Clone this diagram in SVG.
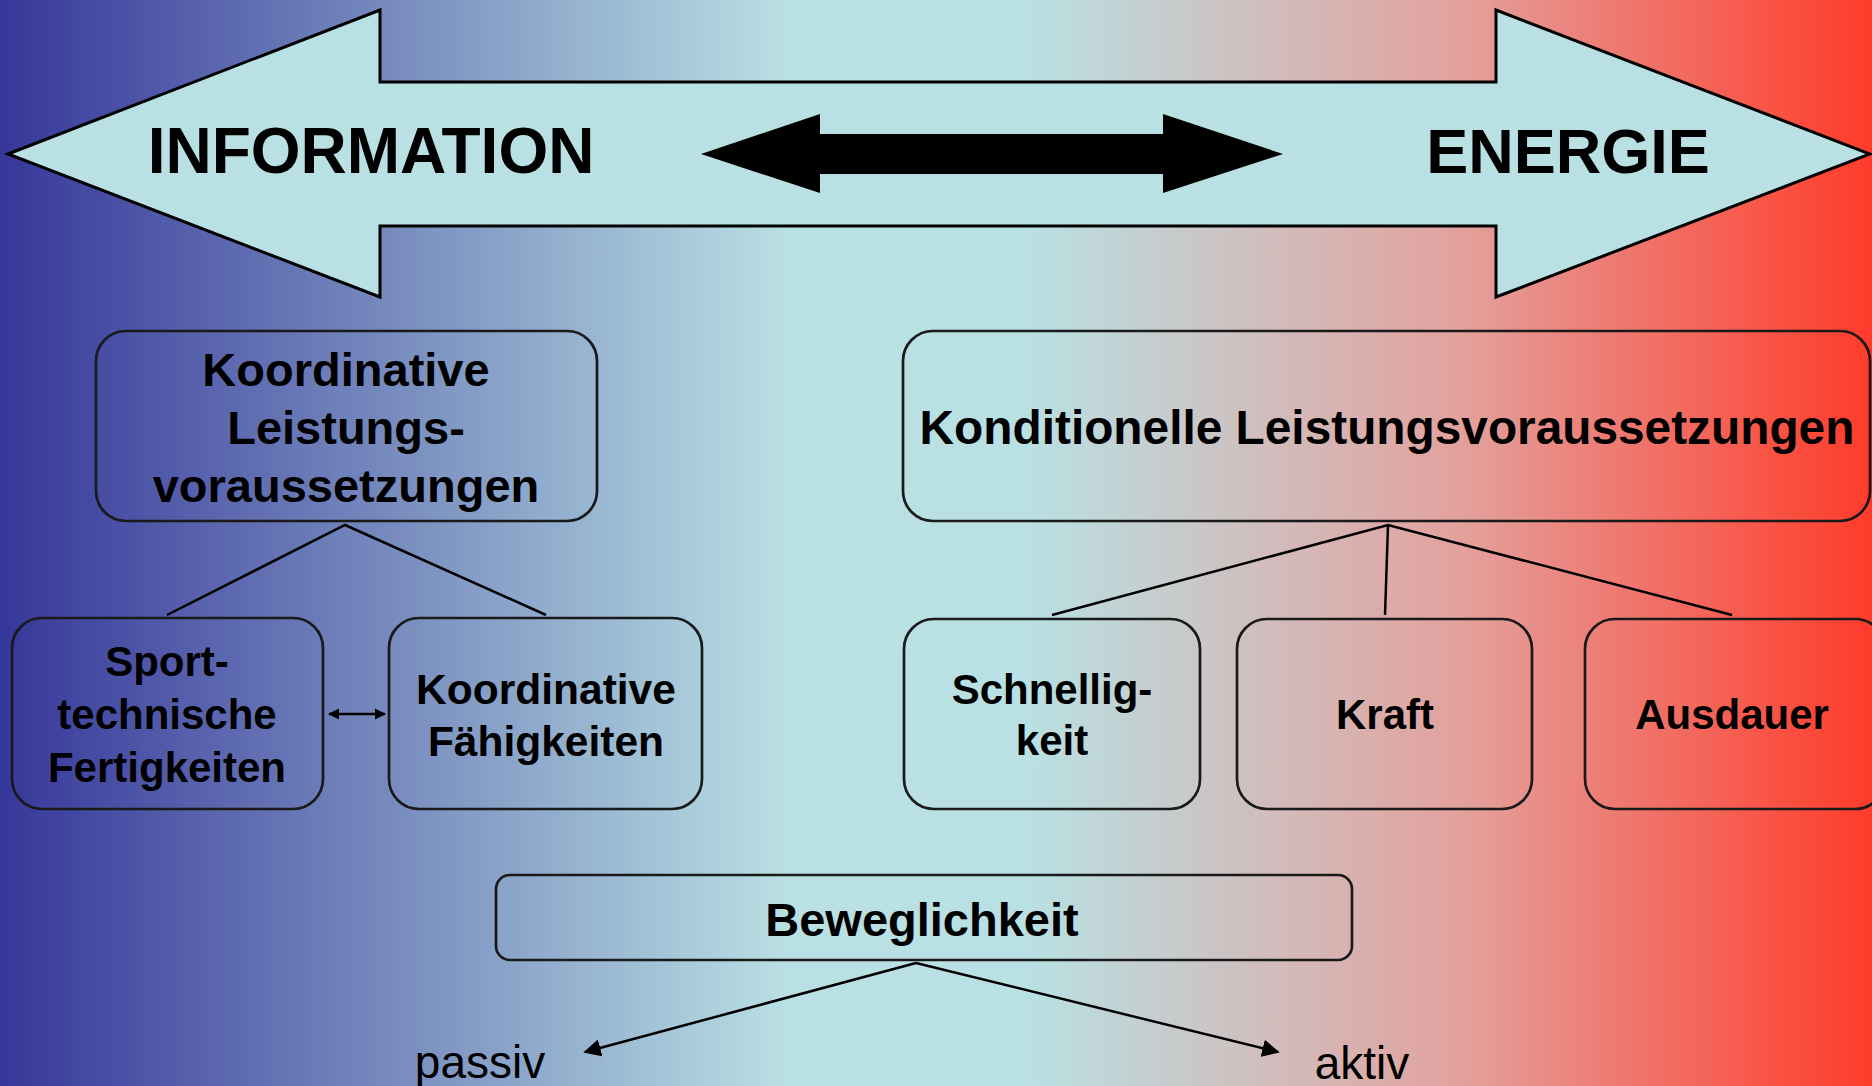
<svg xmlns="http://www.w3.org/2000/svg" width="1872" height="1086" viewBox="0 0 1872 1086">
  <defs>
    <linearGradient id="bg" x1="0" y1="0" x2="1872" y2="0" gradientUnits="userSpaceOnUse">
      <stop offset="0" stop-color="#36379a"/>
      <stop offset="0.42" stop-color="#b9e0e3"/>
      <stop offset="0.55" stop-color="#b9e0e3"/>
      <stop offset="0.78" stop-color="#e3a19d"/>
      <stop offset="1" stop-color="#ff3b2a"/>
    </linearGradient>
    <marker id="ah" viewBox="0 0 10 10" refX="9" refY="5" markerWidth="7" markerHeight="7" markerUnits="strokeWidth" orient="auto-start-reverse">
      <path d="M0,0 L10,5 L0,10 z" fill="#000"/>
    </marker>
    <marker id="ahs" viewBox="0 0 10 10" refX="9" refY="5" markerWidth="4.5" markerHeight="4.5" markerUnits="strokeWidth" orient="auto-start-reverse">
      <path d="M0,0 L10,5 L0,10 z" fill="#000"/>
    </marker>
  </defs>
  <style>
    .box { fill: none; stroke: #1a1a1a; stroke-width: 2.7; }
    .t { font-family: "Liberation Sans", Arial, sans-serif; font-weight: bold; fill: #000; text-anchor: middle; }
    .n { font-family: "Liberation Sans", Arial, sans-serif; font-weight: normal; fill: #000; text-anchor: middle; }
    .ln { stroke: #000; stroke-width: 2.5; fill: none; }
  </style>
  <rect x="0" y="0" width="1872" height="1086" fill="url(#bg)"/>

  <g id="big-arrow">
    <polygon points="8,154 380,10 380,82 1496,82 1496,10 1870,154 1496,297 1496,226 380,226 380,297" fill="#b9e0e3" stroke="#000" stroke-width="3" stroke-linejoin="miter"/>
    <text class="t" x="371" y="173" font-size="64">INFORMATION</text>
    <text class="t" x="1568" y="173" font-size="63">ENERGIE</text>
  </g>

  <g id="mid-arrow">
    <polygon points="701,154 820,114 820,134 1163,134 1163,114 1283,154 1163,193 1163,174 820,174 820,193" fill="#000"/>
  </g>

  <g id="koord-lv">
    <rect class="box" x="96" y="331" width="501" height="190" rx="30"/>
    <text class="t" x="346" y="386" font-size="47">Koordinative</text>
    <text class="t" x="346" y="444" font-size="47">Leistungs-</text>
    <text class="t" x="346" y="502" font-size="47">voraussetzungen</text>
  </g>

  <g id="kond-lv">
    <rect class="box" x="903" y="331" width="967" height="190" rx="30"/>
    <text class="t" x="1387" y="444" font-size="47.8">Konditionelle Leistungsvoraussetzungen</text>
  </g>

  <g id="sporttech">
    <rect class="box" x="12" y="618" width="311" height="191" rx="30"/>
    <text class="t" x="167" y="676" font-size="42">Sport-</text>
    <text class="t" x="167" y="729" font-size="42">technische</text>
    <text class="t" x="167" y="782" font-size="42">Fertigkeiten</text>
  </g>

  <g id="koord-f">
    <rect class="box" x="389" y="618" width="313" height="191" rx="30"/>
    <text class="t" x="546" y="704" font-size="42.5">Koordinative</text>
    <text class="t" x="546" y="756" font-size="42.5">Fähigkeiten</text>
  </g>

  <g id="schnelligkeit">
    <rect class="box" x="904" y="619" width="296" height="190" rx="30"/>
    <text class="t" x="1052" y="704" font-size="42">Schnellig-</text>
    <text class="t" x="1052" y="755" font-size="42">keit</text>
  </g>

  <g id="kraft">
    <rect class="box" x="1237" y="619" width="295" height="190" rx="30"/>
    <text class="t" x="1385" y="729" font-size="42">Kraft</text>
  </g>

  <g id="ausdauer">
    <rect class="box" x="1585" y="619" width="300" height="190" rx="30"/>
    <text class="t" x="1732" y="729" font-size="42">Ausdauer</text>
  </g>

  <g id="beweglichkeit">
    <rect class="box" x="496" y="875" width="856" height="85" rx="14"/>
    <text class="t" x="922" y="936" font-size="47">Beweglichkeit</text>
  </g>

  <g id="passiv">
    <text class="n" x="480" y="1078" font-size="46">passiv</text>
  </g>
  <g id="aktiv">
    <text class="n" x="1362" y="1079" font-size="46">aktiv</text>
  </g>

  <g id="connectors">
    <polyline class="ln" points="167,615 345,525 546,615"/>
    <polyline class="ln" points="1052,615 1388,525 1732,615"/>
    <line class="ln" x1="1388" y1="525" x2="1385" y2="615"/>
    <line class="ln" x1="329" y1="714" x2="385" y2="714" marker-start="url(#ahs)" marker-end="url(#ahs)"/>
    <line class="ln" x1="916" y1="963" x2="585" y2="1052" marker-end="url(#ah)"/>
    <line class="ln" x1="916" y1="963" x2="1278" y2="1052" marker-end="url(#ah)"/>
  </g>
</svg>
